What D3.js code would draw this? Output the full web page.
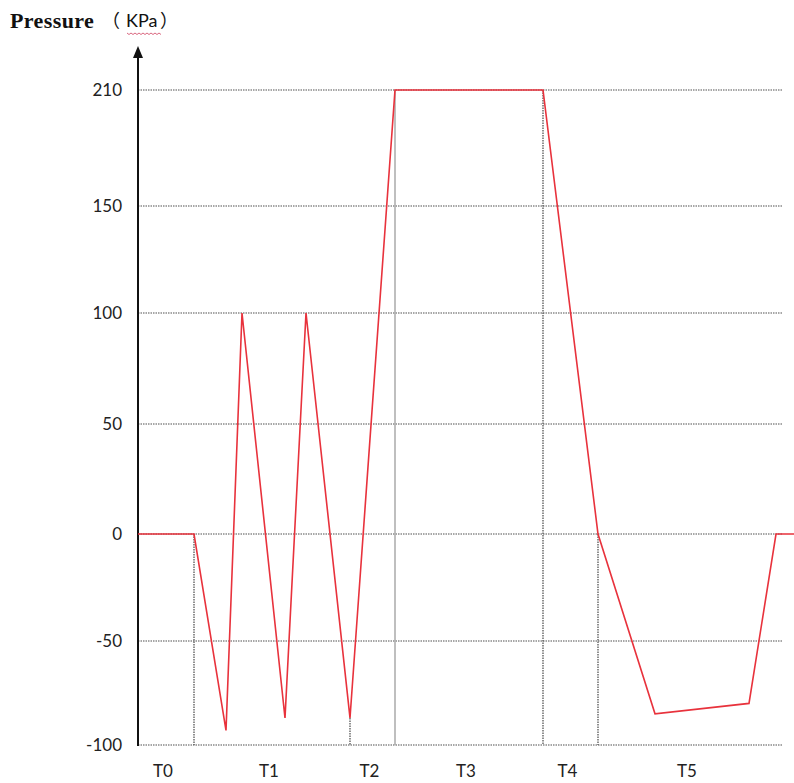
<!DOCTYPE html>
<html>
<head>
<meta charset="utf-8">
<script src="https://cdn.jsdelivr.net/npm/d3@7"></script>
<style>
  body { margin: 0; background: #fff; }
  svg { display: block; }
</style>
</head>
<body>
<svg id="chart"></svg>
<script>
// time (arbitrary units) and pressure (KPa) of the curve
const times = [0, 14, 22, 26, 36.75, 42, 53, 64.25, 101.25, 115, 129.25, 152.75, 159.5, 164]
const pressures = [0, 0, -93, 100, -87, 100, -87, 210, 210, 0, -85, -80, 0, 0]
// y ticks shown on the axis
const yTicks = [-100, -50, 0, 50, 100, 150, 210]
// phase labels and the boundaries between them
const phases = ["T0", "T1", "T2", "T3", "T4", "T5"]
const phaseBounds = [0, 14, 53, 64.25, 101.25, 115, 161]
// indexes of curve points that drop a vertical line to the bottom
const dropPoints = [1, 6, 7, 8, 9]

const outerWidth = 794, outerHeight = 783
const svg = d3.select("#chart").attr("width", outerWidth).attr("height", outerHeight)

const xScale = d3.scaleLinear().domain([0, 164]).range([138, 794])
// hand drawn axis: spacing is not even, so use a piecewise scale
const yScale = d3.scaleLinear()
  .domain(yTicks)
  .range([745, 641, 534, 424, 313, 206, 90])

const gridColor = "#8a8a8a"

// horizontal grid lines
svg.append("g").selectAll("line").data(yTicks).enter().append("line")
  .attr("x1", xScale(0))
  .attr("x2", xScale(161))
  .attr("y1", d => yScale(d))
  .attr("y2", d => yScale(d))
  .style("stroke", gridColor)
  .style("stroke-width", 1.3)
  .style("stroke-dasharray", "1.5,1")

// vertical drop lines
svg.append("g").selectAll("line").data(dropPoints).enter().append("line")
  .attr("x1", i => xScale(times[i]))
  .attr("x2", i => xScale(times[i]))
  .attr("y1", i => yScale(pressures[i]))
  .attr("y2", yScale(-100))
  .style("stroke", i => i === 7 ? "#aaa" : "#555")
  .style("stroke-width", i => i === 7 ? 1.5 : 1.3)
  .style("stroke-dasharray", i => i === 7 ? null : "1.5,1")

// y axis with arrow
svg.append("line")
  .attr("x1", xScale(0)).attr("x2", xScale(0))
  .attr("y1", yScale(-100) + 1).attr("y2", 56)
  .style("stroke", "#111")
  .style("stroke-width", 2)
svg.append("path")
  .attr("d", d3.line()([[xScale(0) - 5, 58], [xScale(0), 46], [xScale(0) + 5, 58]]) + "Z")
  .style("fill", "#111")

// y tick labels
svg.append("g").selectAll("text").data(yTicks).enter().append("text")
  .attr("x", 122)
  .attr("y", d => yScale(d))
  .attr("dy", "0.35em")
  .attr("text-anchor", "end")
  .style("font-family", "Lato, 'Open Sans', sans-serif")
  .style("font-size", "17px")
  .style("fill", "#222")
  .text(d => d)

// phase labels
svg.append("g").selectAll("text").data(phases).enter().append("text")
  .attr("x", (d, i) => (xScale(phaseBounds[i]) + xScale(phaseBounds[i + 1])) / 2 - 3)
  .attr("y", 777)
  .attr("text-anchor", "middle")
  .style("font-family", "Lato, 'Open Sans', sans-serif")
  .style("font-size", "17px")
  .style("fill", "#222")
  .text(d => d)

// pressure curve
const line = d3.line()
  .x((d, i) => xScale(times[i]))
  .y(d => yScale(d))
svg.append("path")
  .datum(pressures)
  .attr("d", line)
  .style("fill", "none")
  .style("stroke", "#e8323c")
  .style("stroke-width", 1.6)
  .style("stroke-linejoin", "miter")

// title, pieces placed one by one
svg.append("text")
  .attr("x", 10).attr("y", 28)
  .style("font-family", "'Liberation Serif', 'Times New Roman', serif")
  .style("font-weight", "bold")
  .style("font-size", "22px")
  .style("letter-spacing", "0.4px")
  .style("fill", "#111")
  .text("Pressure")
svg.append("text")
  .attr("x", 102).attr("y", 27)
  .style("font-family", "'Noto Sans CJK SC', sans-serif")
  .style("font-size", "18px")
  .style("fill", "#111")
  .text("（")
svg.append("text")
  .attr("x", 126).attr("y", 27)
  .style("font-family", "Lato, 'Open Sans', sans-serif")
  .style("font-size", "18px")
  .style("fill", "#111")
  .text("KPa")
svg.append("text")
  .attr("x", 160).attr("y", 27)
  .style("font-family", "'Noto Sans CJK SC', sans-serif")
  .style("font-size", "18px")
  .style("fill", "#111")
  .text("）")

// red wavy spell-check underline under KPa
const wave = d3.range(0, 18).map(k => [127 + k * 2, 33 + (k % 2 ? 1.5 : 0)])
svg.append("path")
  .attr("d", d3.line()(wave))
  .style("fill", "none")
  .style("stroke", "#d04060")
  .style("stroke-width", 0.8)
</script>
</body>
</html>
